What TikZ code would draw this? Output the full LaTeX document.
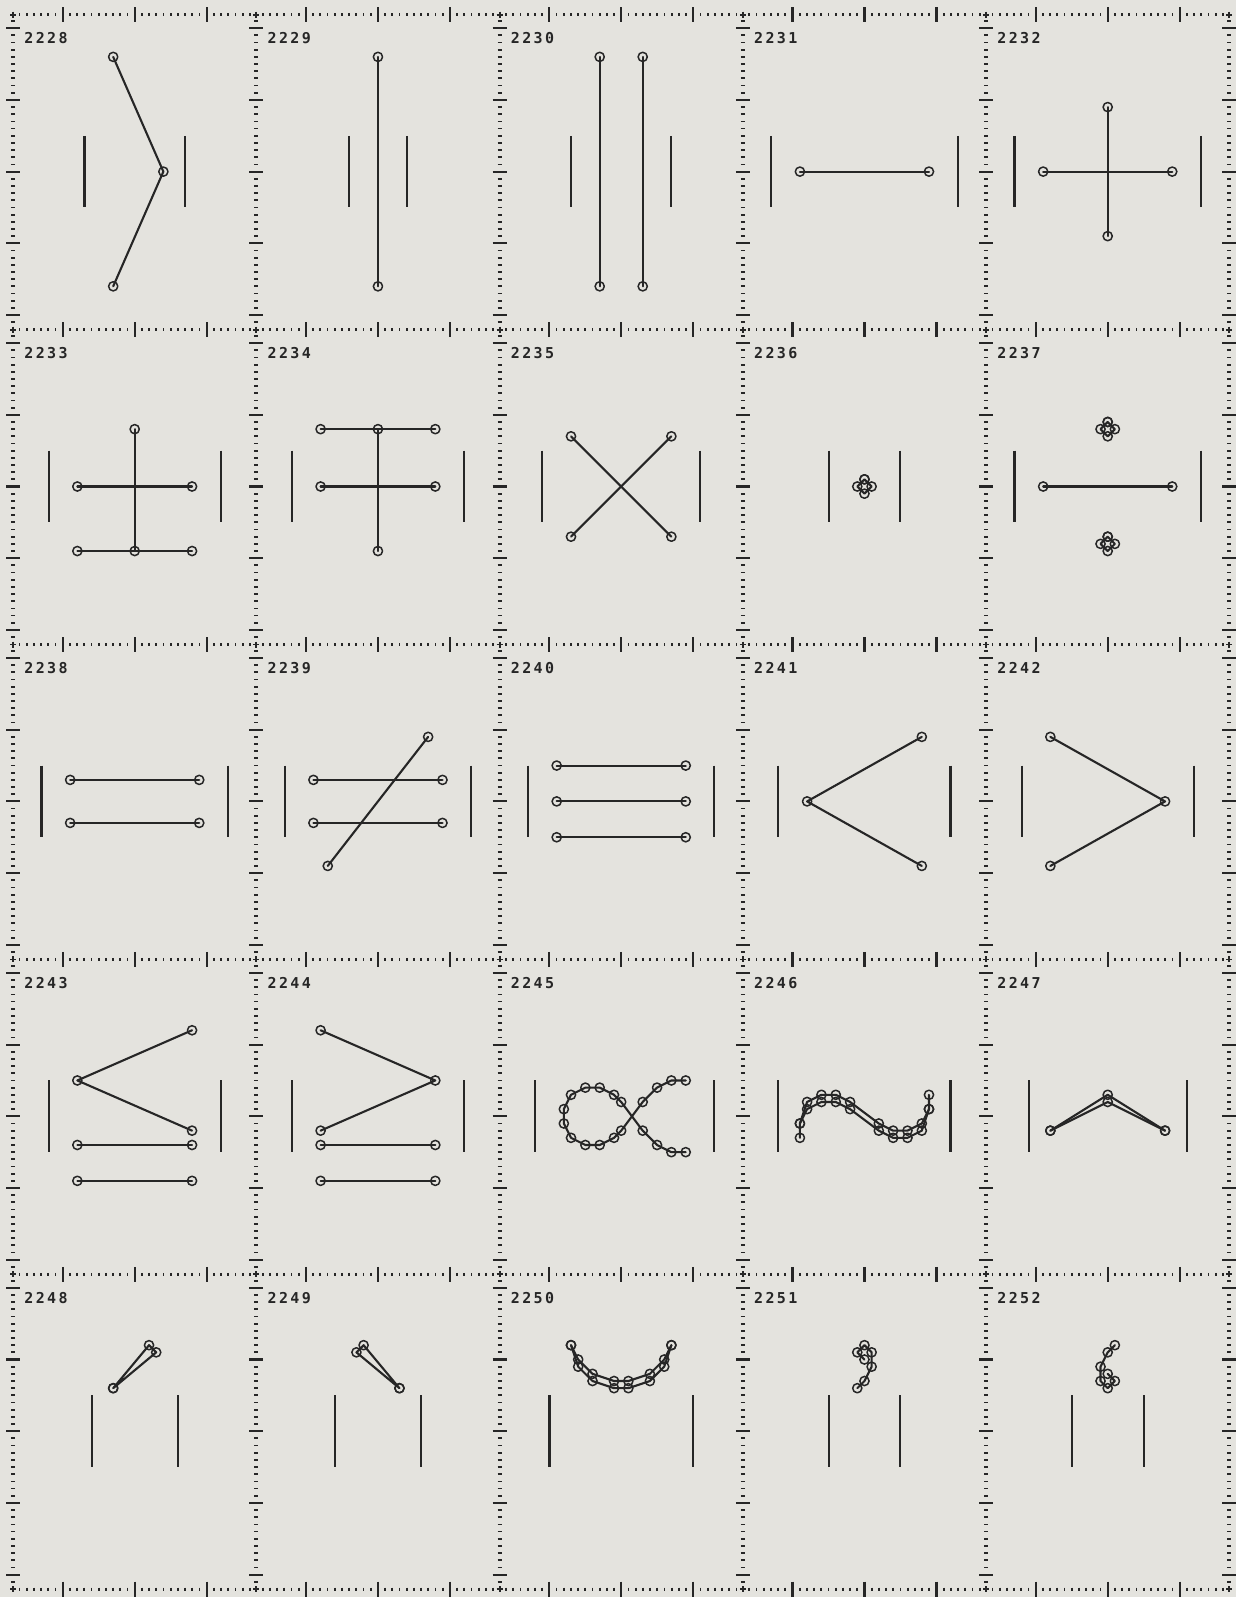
\documentclass[tikz,border=0pt]{standalone}
\usepackage{fontspec}
\usetikzlibrary{plotmarks}
\newfontfamily\lblfont{DejaVu Sans Mono}
\definecolor{bgc}{HTML}{E4E3DE}
\definecolor{ink}{HTML}{262626}
\tikzset{
 stk/.style={draw=ink, line width=1.05pt, line join=round, line cap=round},
 gl/.style={stk, mark=o, mark size=2.3pt, mark options={line width=0.75pt, solid, draw=ink}},
 bar/.style={draw=ink, line width=1.05pt},
 rk/.style={draw=ink, line width=0.9pt},
 rkmaj/.style={draw=ink, line width=1.05pt},
 lbl/.style={anchor=base west, inner sep=0pt, text=ink, font={\lblfont\bfseries\fontsize{7.5pt}{9pt}\selectfont}},
}
\newcommand\dg[4]{\makebox[5.7pt][l]{#1}\makebox[5.7pt][l]{#2}\makebox[5.7pt][l]{#3}#4}
\newcommand\gcell[6]{%
 \begin{scope}[shift={({134.7+243.25*#1},{171.6+314.9*#2})}, x=3.585pt, y=-3.585pt]
 \draw[bar] (#4,-5) -- (#4,5) (#5,-5) -- (#5,5);
 \node[lbl] (n#3) at (-15.44,-17.8) {\dg#3};
 #6
 \end{scope}}
\begin{document}
\begin{tikzpicture}[x=0.5pt, y=-0.5pt]
\useasboundingbox (0,0) rectangle (1236,1597);
\fill[bgc] (0,0) rectangle (1236,1597);
% horizontal rulers
\foreach \r in {0,...,5} {
 \pgfmathsetmacro\Y{14.7+314.9*\r}
 \foreach \c in {0,...,4} {
  \pgfmathsetmacro\X{134.7+243.25*\c}
  \draw[rk] \foreach \j in {-16,...,16} {(\X+7.2*\j,\Y-1.5) -- ++(0,3)};
  \draw[rkmaj] \foreach \j in {-10,0,10} {(\X+7.2*\j,\Y-7.5) -- ++(0,15)};
 }
}
% vertical rulers
\foreach \c in {0,...,5} {
 \pgfmathsetmacro\X{13.1+243.25*\c}
 \foreach \r in {0,...,4} {
  \pgfmathsetmacro\Y{171.6+314.9*\r}
  \draw[rk] \foreach \j in {-21,...,21} {(\X-2,\Y+7.17*\j) -- ++(4,0)};
  \draw[rkmaj] \foreach \j in {-20,-10,0,10,20} {(\X-7,\Y+7.17*\j) -- ++(14,0)};
 }
 \foreach \r in {0,...,5} {
  \pgfmathsetmacro\Y{14.7+314.9*\r}
  \draw[rk] (\X-3,\Y) -- ++(6,0) (\X,\Y-3) -- ++(0,6);
 }
}
% row 0
\gcell{0}{0}{2228}{-7}{7}{\draw[gl] plot coordinates {(-3,-16) (4,0) (-3,16)};}
\gcell{1}{0}{2229}{-4}{4}{\draw[gl] plot coordinates {(0,-16) (0,16)};}
\gcell{2}{0}{2230}{-7}{7}{\draw[gl] plot coordinates {(-3,-16) (-3,16)}; \draw[gl] plot coordinates {(3,-16) (3,16)};}
\gcell{3}{0}{2231}{-13}{13}{\draw[gl] plot coordinates {(-9,0) (9,0)};}
\gcell{4}{0}{2232}{-13}{13}{\draw[gl] plot coordinates {(0,-9) (0,9)}; \draw[gl] plot coordinates {(-9,0) (9,0)};}
% row 1
\gcell{0}{1}{2233}{-12}{12}{\draw[gl] plot coordinates {(0,-8) (0,9)}; \draw[gl] plot coordinates {(-8,0) (8,0)}; \draw[gl] plot coordinates {(-8,9) (8,9)};}
\gcell{1}{1}{2234}{-12}{12}{\draw[gl] plot coordinates {(0,-8) (0,9)}; \draw[gl] plot coordinates {(-8,-8) (8,-8)}; \draw[gl] plot coordinates {(-8,0) (8,0)};}
\gcell{2}{1}{2235}{-11}{11}{\draw[gl] plot coordinates {(-7,-7) (7,7)}; \draw[gl] plot coordinates {(7,-7) (-7,7)};}
\gcell{3}{1}{2236}{-5}{5}{\draw[gl] plot coordinates {(0,-1) (-1,0) (0,1) (1,0) (0,-1)};}
\gcell{4}{1}{2237}{-13}{13}{\draw[gl] plot coordinates {(-9,0) (9,0)}; \draw[gl] plot coordinates {(0,-9) (-1,-8) (0,-7) (1,-8) (0,-9)}; \draw[gl] plot coordinates {(0,7) (-1,8) (0,9) (1,8) (0,7)};}
% row 2
\gcell{0}{2}{2238}{-13}{13}{\draw[gl] plot coordinates {(-9,-3) (9,-3)}; \draw[gl] plot coordinates {(-9,3) (9,3)};}
\gcell{1}{2}{2239}{-13}{13}{\draw[gl] plot coordinates {(7,-9) (-7,9)}; \draw[gl] plot coordinates {(-9,-3) (9,-3)}; \draw[gl] plot coordinates {(-9,3) (9,3)};}
\gcell{2}{2}{2240}{-13}{13}{\draw[gl] plot coordinates {(-9,-5) (9,-5)}; \draw[gl] plot coordinates {(-9,0) (9,0)}; \draw[gl] plot coordinates {(-9,5) (9,5)};}
\gcell{3}{2}{2241}{-12}{12}{\draw[gl] plot coordinates {(8,-9) (-8,0) (8,9)};}
\gcell{4}{2}{2242}{-12}{12}{\draw[gl] plot coordinates {(-8,-9) (8,0) (-8,9)};}
% row 3
\gcell{0}{3}{2243}{-12}{12}{\draw[gl] plot coordinates {(8,-12) (-8,-5) (8,2)}; \draw[gl] plot coordinates {(-8,4) (8,4)}; \draw[gl] plot coordinates {(-8,9) (8,9)};}
\gcell{1}{3}{2244}{-12}{12}{\draw[gl] plot coordinates {(-8,-12) (8,-5) (-8,2)}; \draw[gl] plot coordinates {(-8,4) (8,4)}; \draw[gl] plot coordinates {(-8,9) (8,9)};}
\gcell{2}{3}{2245}{-12}{13}{\draw[gl] plot coordinates {(9,-5) (7,-5) (5,-4) (3,-2) (0,2) (-1,3) (-3,4) (-5,4) (-7,3) (-8,1) (-8,-1) (-7,-3) (-5,-4) (-3,-4) (-1,-3) (0,-2) (3,2) (5,4) (7,5) (9,5)};}
\gcell{3}{3}{2246}{-12}{12}{\draw[gl] plot coordinates {(-9,3) (-9,1) (-8,-2) (-6,-3) (-4,-3) (-2,-2) (2,1) (4,2) (6,2) (8,1) (9,-1)}; \draw[gl] plot coordinates {(-9,1) (-8,-1) (-6,-2) (-4,-2) (-2,-1) (2,2) (4,3) (6,3) (8,2) (9,-1) (9,-3)};}
\gcell{4}{3}{2247}{-11}{11}{\draw[gl] plot coordinates {(-8,2) (0,-3) (8,2)}; \draw[gl] plot coordinates {(-8,2) (0,-2) (8,2)};}
% row 4
\gcell{0}{4}{2248}{-6}{6}{\draw[gl] plot coordinates {(-3,-6) (2,-12) (3,-11) (-3,-6)};}
\gcell{1}{4}{2249}{-6}{6}{\draw[gl] plot coordinates {(3,-6) (-2,-12) (-3,-11) (3,-6)};}
\gcell{2}{4}{2250}{-10}{10}{\draw[gl] plot coordinates {(-7,-12) (-6,-10) (-4,-8) (-1,-7) (1,-7) (4,-8) (6,-10) (7,-12)}; \draw[gl] plot coordinates {(-7,-12) (-6,-9) (-4,-7) (-1,-6) (1,-6) (4,-7) (6,-9) (7,-12)};}
\gcell{3}{4}{2251}{-5}{5}{\draw[gl] plot coordinates {(0,-10) (-1,-11) (0,-12) (1,-11) (1,-9) (0,-7) (-1,-6)};}
\gcell{4}{4}{2252}{-5}{5}{\draw[gl] plot coordinates {(1,-12) (0,-11) (-1,-9) (-1,-7) (0,-6) (1,-7) (0,-8)};}
\end{tikzpicture}
\end{document}
